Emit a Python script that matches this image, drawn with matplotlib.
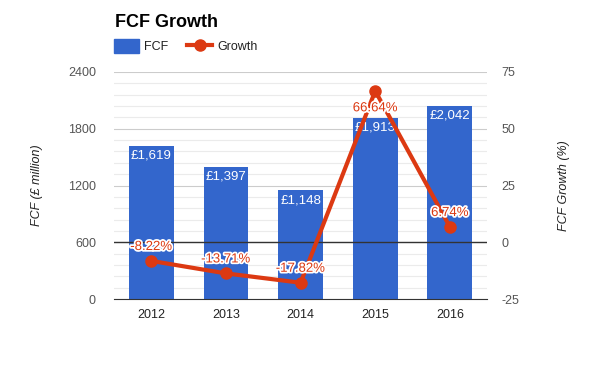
import matplotlib.pyplot as plt
import matplotlib.patheffects as pe
from matplotlib.lines import Line2D
from matplotlib.patches import Patch
from matplotlib.ticker import MultipleLocator

plt.rcParams['font.family'] = ['Liberation Sans', 'DejaVu Sans']
plt.rcParams['axes.unicode_minus'] = False

# ----------------------------
# DATA
# ----------------------------
years = ["2012", "2013", "2014", "2015", "2016"]
fcf = [1619, 1397, 1148, 1913, 2042]
growth = [-8.22, -13.71, -17.82, 66.64, 6.74]

BLUE = "#3366cc"
RED = "#dc3912"
GREY = "#555555"

fig = plt.figure(figsize=(6, 3.71), dpi=100)
ax = fig.add_axes([0.19, 0.194, 0.622, 0.612])
ax2 = ax.twinx()

x = list(range(len(years)))

# bars
ax.bar(x, fcf, width=0.6, color=BLUE, zorder=2)
ax.set_xlim(-0.5, len(years) - 0.5)
ax.set_ylim(0, 2400)
ax.yaxis.set_major_locator(MultipleLocator(600))
ax.yaxis.set_minor_locator(MultipleLocator(120))
ax.grid(True, which="major", axis="y", color="#cccccc", lw=0.8, zorder=0)
ax.grid(True, which="minor", axis="y", color="#ebebeb", lw=0.8, zorder=0)
ax.set_axisbelow(True)

for i, v in enumerate(fcf):
    ax.text(i, v - 40, "£{:,}".format(v), color="white", ha="center", va="top",
            fontsize=9.5, zorder=3)

# growth line
ax2.set_ylim(-25, 75)
ax2.yaxis.set_major_locator(MultipleLocator(25))
ax2.axhline(0, color="#333333", lw=1, zorder=1)
ax2.plot(x, growth, color=RED, lw=3, marker="o", markersize=8, zorder=4)
for i, g in enumerate(growth):
    if g > 60:
        y, va = g - 5, "top"
    else:
        y, va = g + 3.5, "bottom"
    ax2.text(i, y, "{:.2f}%".format(g), color=RED, ha="center", va=va, fontsize=9.5,
             zorder=5, path_effects=[pe.withStroke(linewidth=2.5, foreground="white")])

# axes styling
for a in (ax, ax2):
    for s in a.spines.values():
        s.set_visible(False)
    a.tick_params(axis="both", which="both", length=0, colors=GREY, labelsize=9)
ax.spines["bottom"].set_visible(True)
ax.spines["bottom"].set_color("#333333")
ax.set_xticks(x)
ax.set_xticklabels(years)
ax.tick_params(axis="x", pad=7, colors="#222222")
ax.tick_params(axis="y", pad=13)
ax2.tick_params(axis="y", pad=10)

ax.set_ylabel("FCF (£ million)", style="italic", color="#222222", fontsize=9, labelpad=18)
ax2.set_ylabel("FCF Growth (%)", style="italic", color="#222222", fontsize=9, labelpad=28)

# title and legend
fig.text(0.192, 0.94, "FCF Growth", fontsize=13, fontweight="bold", ha="left", va="center")
handles = [Patch(color=BLUE),
           Line2D([0], [0], color=RED, lw=3, marker="o", markersize=8)]
fig.legend(handles, ["FCF", "Growth"], loc="center left", bbox_to_anchor=(0.172, 0.876),
           ncol=2, frameon=False, fontsize=9, handlelength=2.0, handleheight=1.3,
           columnspacing=1.5, handletextpad=0.4, labelcolor="#222222")

fig.savefig("out.png", dpi=100)
